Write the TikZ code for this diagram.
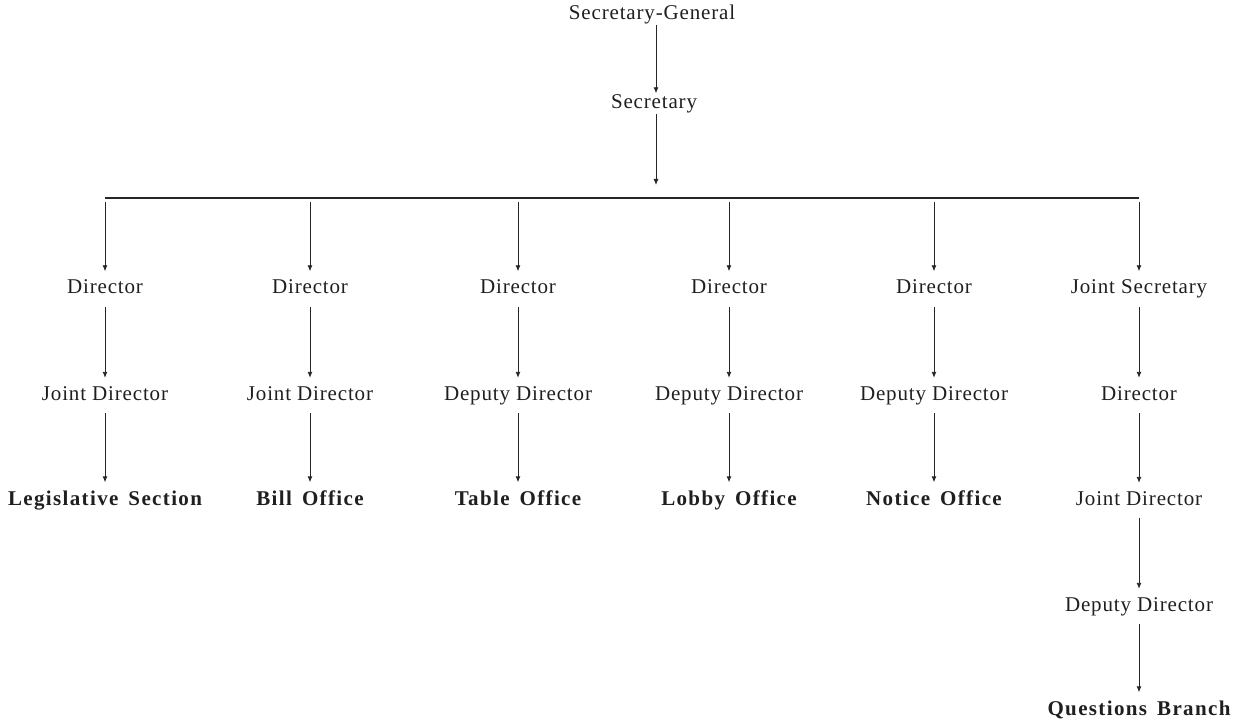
\documentclass[tikz,border=0pt]{standalone}
\usepackage{fontspec}
\setmainfont{Liberation Serif}[LetterSpace=4, BoldFeatures={LetterSpace=6.5}]
\usetikzlibrary{arrows.meta}
\newcommand{\wgap}{\hspace{10pt}}
\begin{document}
\begin{tikzpicture}[x=1pt,y=-1pt,
  every node/.style={font=\fontsize{21}{25}\selectfont, text=black!88},
  post/.style={anchor=base, inner xsep=2pt, inner ysep=8.5pt, text height=14pt, text depth=4pt},
  toppost/.style={post, inner ysep=1pt},
  unit/.style={post, font=\fontsize{21}{25}\selectfont\bfseries},
  link/.style={line width=0.9pt, draw=black!85, -{Latex[length=6pt,width=5pt]}},
  bar/.style={line width=1.1pt, draw=black!85}]
\useasboundingbox (0,0) rectangle (1240,722);

% top of the hierarchy
\node[toppost] (sg) at (652,19.5) {Secretary-General};
\node[toppost] (sec) at (654,108.5) {Secretary};
\coordinate (hub) at (656,198);

% branch points on the distribution bar
\foreach \i/\x in {1/105,2/310,3/518,4/729,5/934,6/1139}
  \coordinate (b\i) at (\x,198);

% column 1
\node[post] (d1) at (105,294) {Director};
\node[post] (j1) at (105,400.5) {Joint Director};
\node[unit] (u1) at (105,505) {Legislative\wgap Section};
% column 2
\node[post] (d2) at (310,294) {Director};
\node[post] (j2) at (310,400.5) {Joint Director};
\node[unit] (u2) at (310,505) {Bill\wgap Office};
% column 3
\node[post] (d3) at (518,294) {Director};
\node[post] (j3) at (518,400.5) {Deputy Director};
\node[unit] (u3) at (518,505) {Table\wgap Office};
% column 4
\node[post] (d4) at (729,294) {Director};
\node[post] (j4) at (729,400.5) {Deputy Director};
\node[unit] (u4) at (729,505) {Lobby\wgap Office};
% column 5
\node[post] (d5) at (934,294) {Director};
\node[post] (j5) at (934,400.5) {Deputy Director};
\node[unit] (u5) at (934,505) {Notice\wgap Office};
% column 6
\node[post] (d6) at (1139,294) {Joint Secretary};
\node[post] (j6) at (1139,400.5) {Director};
\node[post] (k6) at (1139,505.5) {Joint Director};
\node[post] (m6) at (1139,611.5) {Deputy Director};
\node[unit] (u6) at (1139,715) {Questions\wgap Branch};

% connectors
\draw[link] (sg.south -| hub) -- (sec.north -| hub);
\draw[link, shorten >=13pt] (sec.south -| hub) -- (hub);
\draw[bar] (b1) -- (b6);
\foreach \i in {1,...,6}
  \draw[link, shorten <=4pt] (b\i) -- (d\i);
\foreach \i in {1,...,6}
  \draw[link] (d\i) -- (j\i);
\foreach \i in {1,...,5}
  \draw[link] (j\i) -- (u\i);
\draw[link] (j6) -- (k6);
\draw[link] (k6) -- (m6);
\draw[link] (m6) -- (u6);
\end{tikzpicture}
\end{document}
